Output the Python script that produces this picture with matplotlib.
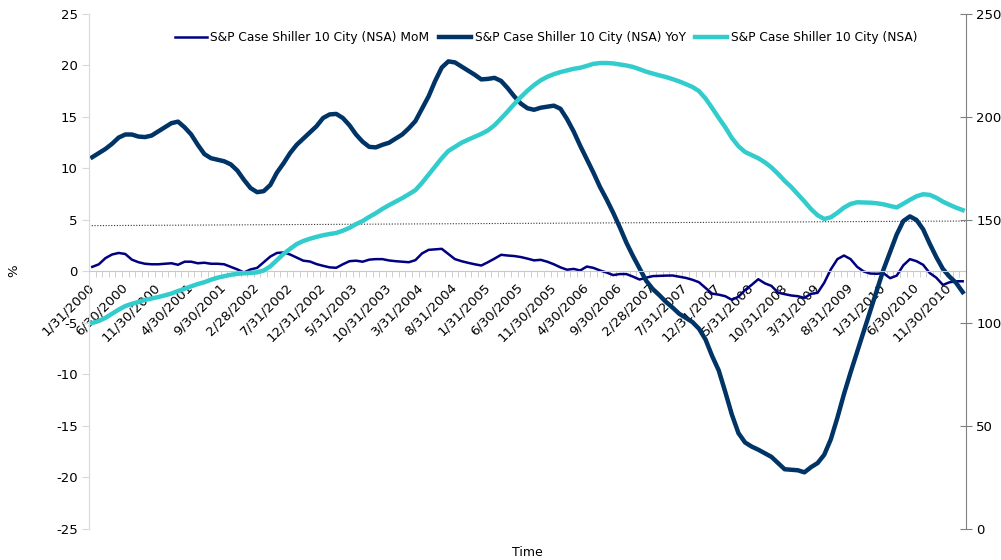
import matplotlib
matplotlib.use('Agg')
import matplotlib.pyplot as plt
import numpy as np

plt.rcParams['axes.unicode_minus'] = False

# monthly values, 1/31/2000 .. 1/31/2011
mom = [0.45, 0.7, 1.3, 1.65, 1.8, 1.7, 1.15, 0.9, 0.75, 0.7,
       0.7, 0.75, 0.8, 0.65, 0.95, 0.95, 0.8, 0.85, 0.75, 0.75,
       0.7, 0.45, 0.2, -0.1, 0.2, 0.35, 0.9, 1.45, 1.8, 1.85,
       1.65, 1.35, 1.05, 0.97, 0.72, 0.55, 0.4, 0.36, 0.7, 1.0,
       1.05, 0.95, 1.15, 1.2, 1.2, 1.07, 1.0, 0.95, 0.9, 1.1,
       1.75, 2.1, 2.15, 2.2, 1.7, 1.2, 1.0, 0.84, 0.7, 0.58,
       0.9, 1.25, 1.62, 1.55, 1.5, 1.4, 1.25, 1.08, 1.13, 0.95,
       0.7, 0.4, 0.17, 0.25, 0.1, 0.48, 0.35, 0.1, -0.1, -0.35,
       -0.25, -0.25, -0.5, -0.78, -0.6, -0.45, -0.42, -0.4, -0.39, -0.5,
       -0.62, -0.8, -1.04, -1.6, -2.15, -2.25, -2.4, -2.75, -2.45, -1.8,
       -1.3, -0.75, -1.15, -1.4, -2.05, -2.2, -2.33, -2.4, -2.56, -2.17,
       -2.07, -1.1, 0.2, 1.2, 1.55, 1.2, 0.45, 0.0, -0.2, -0.22,
       -0.17, -0.65, -0.4, 0.6, 1.2, 1.0, 0.65, -0.15, -0.6, -1.3,
       -1.05, -0.95, -0.95]

yoy = [11.1, 11.5, 11.9, 12.4, 13.0, 13.3, 13.3, 13.1, 13.05, 13.2,
       13.6, 14.0, 14.4, 14.55, 14.0, 13.3, 12.3, 11.4, 11.0, 10.85,
       10.7, 10.4, 9.8, 8.9, 8.1, 7.7, 7.8, 8.4, 9.6, 10.5,
       11.5, 12.3, 12.9, 13.5, 14.1, 14.9, 15.25, 15.3, 14.9, 14.2,
       13.3, 12.6, 12.1, 12.05, 12.3, 12.5, 12.9, 13.3, 13.9, 14.6,
       15.8, 17.0, 18.5, 19.8, 20.4, 20.3, 19.9, 19.5, 19.1, 18.65,
       18.7, 18.8, 18.5, 17.8, 17.0, 16.3, 15.85, 15.7, 15.9, 16.0,
       16.1, 15.8, 14.8, 13.6, 12.2, 10.9, 9.6, 8.2, 7.0, 5.7,
       4.3, 2.8, 1.5, 0.3, -0.9, -1.7, -2.3, -2.95, -3.5, -4.1,
       -4.5, -4.9, -5.55, -6.6, -8.2, -9.6, -11.7, -13.9, -15.7, -16.6,
       -17.0, -17.3, -17.65, -18.0, -18.6, -19.2, -19.25, -19.3, -19.5, -19.0,
       -18.6, -17.8, -16.3, -14.2, -11.9, -9.8, -7.8, -5.8, -3.8, -1.8,
       0.2, 1.9, 3.6, 4.9, 5.35, 5.0, 4.1, 2.7, 1.4, 0.25,
       -0.5, -1.1, -2.0]

nsa = [100, 101, 102.5, 104.5, 106.5, 108.2, 109.3, 110.2, 111.2, 111.9,
       112.6, 113.4, 114.3, 115.5, 116.6, 117.8, 118.9, 119.8, 121, 122,
       122.7, 123.4, 123.9, 124.1, 124.3, 124.6, 125.5, 127.5, 130.5, 133.5,
       136, 138.3, 139.8, 140.9, 141.8, 142.6, 143.2, 143.7, 144.8, 146.2,
       148, 149.5, 151.5, 153.3, 155.4, 157.2, 158.9, 160.6, 162.5, 164.5,
       168, 172, 176, 180, 183.5, 185.5, 187.5, 189, 190.4, 191.8,
       193.5, 196, 199.3, 202.7, 206.3, 209.7, 212.8, 215.5, 217.8, 219.5,
       220.8, 221.8, 222.6, 223.4, 223.9, 224.8, 225.8, 226.2, 226.2, 226,
       225.5, 225, 224.3, 223.2, 222, 221.1, 220.2, 219.4, 218.4, 217.3,
       216, 214.6, 212.6, 209, 204.4, 199.6, 195, 189.8, 185.8, 183,
       181.5, 180, 178, 175.5, 172.4, 169, 166, 162.5, 159, 155.3,
       152.3, 150.5, 151.3, 153.5, 156, 157.8, 158.6, 158.5, 158.4, 158.1,
       157.6, 156.8, 156.1, 157.9, 159.8, 161.5, 162.5, 162.2, 160.8, 158.9,
       157.4, 156, 154.8]

tick_labels = ['1/31/2000', '6/30/2000', '11/30/2000', '4/30/2001', '9/30/2001',
               '2/28/2002', '7/31/2002', '12/31/2002', '5/31/2003', '10/31/2003',
               '3/31/2004', '8/31/2004', '1/31/2005', '6/30/2005', '11/30/2005',
               '4/30/2006', '9/30/2006', '2/28/2007', '7/31/2007', '12/31/2007',
               '5/31/2008', '10/31/2008', '3/31/2009', '8/31/2009', '1/31/2010',
               '6/30/2010', '11/30/2010']

# dotted guide line (left / right end, % axis)
guide = [4.45, 4.9]

n = len(nsa)
x = np.arange(n)

fig = plt.figure(figsize=(10.01, 5.6), dpi=100)
ax = fig.add_axes([0.0889, 0.0554, 0.8761, 0.9196])

l1, = ax.plot(x, mom, color='#000080', lw=1.8, label='S&P Case Shiller 10 City (NSA) MoM')
l2, = ax.plot(x, yoy, color='#003366', lw=3.2, label='S&P Case Shiller 10 City (NSA) YoY')
ax.plot([-0.5, n - 0.5], guide, color='#333333', lw=0.8, ls=(0, (1, 1.5)))
ax.set_xlim(-0.5, n - 0.5)
ax.set_ylim(-25, 25)
ax.set_yticks(np.arange(-25, 26, 5))

ax2 = ax.twinx()
l3, = ax2.plot(x, nsa, color='#33CCCC', lw=3.2, label='S&P Case Shiller 10 City (NSA)')
ax2.set_ylim(0, 250)
ax2.set_yticks(np.arange(0, 251, 50))

# spines
for s in ['top', 'right']:
    ax.spines[s].set_visible(False)
for s in ['top', 'left', 'bottom']:
    ax2.spines[s].set_visible(False)
ax.spines['left'].set_color('#D9D9D9')
ax.spines['bottom'].set_position(('data', 0))
ax.spines['bottom'].set_color('#C8C8C8')
ax2.spines['right'].set_color('#808080')

# x ticks: labels every 5 months, small marks at every category boundary
ax.set_xticks(x[::5])
ax.set_xticklabels(tick_labels, rotation=45, ha='right', va='center',
                   rotation_mode='anchor', fontsize=9.5)
ax.set_xticks(np.arange(-0.5, n, 1), minor=True)
ax.tick_params(axis='x', which='major', length=0, pad=10)
ax.tick_params(axis='x', which='minor', length=4, color='#C8C8C8', direction='out')
ax.tick_params(axis='y', length=5, color='#D9D9D9', labelsize=9.5, pad=3)
ax2.tick_params(axis='y', direction='inout', length=9, color='#808080', labelsize=9.5, pad=3)

fig.text(14 / 1001, 1 - 271 / 560, '%', rotation=90, ha='center', va='center', fontsize=9.5)
fig.text(527 / 1001, 1 - 552 / 560, 'Time', ha='center', va='center', fontsize=9)

fig.legend([l1, l2, l3], [l.get_label() for l in (l1, l2, l3)],
           loc='center', bbox_to_anchor=(546 / 1001, 1 - 38 / 560), ncol=3,
           frameon=False, fontsize=8.8, handlelength=2.6, handletextpad=0.3,
           columnspacing=0.8)

fig.savefig('out.png', dpi=100)
